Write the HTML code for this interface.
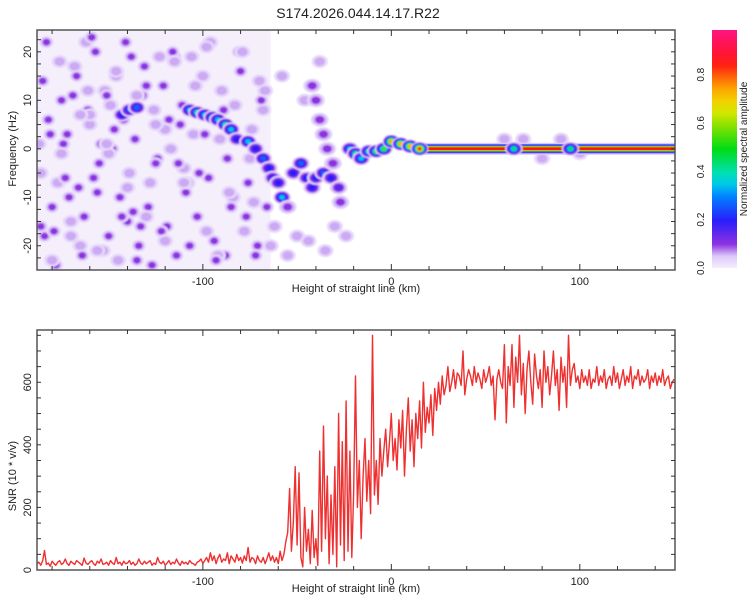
<!DOCTYPE html>
<html><head><meta charset="utf-8"><style>
body{margin:0;background:#fff;}
svg{display:block;font-family:"Liberation Sans",sans-serif;}
</style></head><body>
<svg id="c" width="750" height="600" xmlns="http://www.w3.org/2000/svg">
<text x="358" y="18" font-size="14" text-anchor="middle" fill="#222">S174.2026.044.14.17.R22</text>
</svg>
<script>
// ---- data ----
const xTicks = [-100, 0, 100];
const freqTicks = [-20, -10, 0, 10, 20];
const snrTicks = [0, 200, 400, 600];
const cbTicks = [0.0, 0.2, 0.4, 0.6, 0.8];
// ridge blobs: km, Hz, amplitude
const ridgeKm  = [-143,-139,-135,-107,-103,-99,-95,-92,-88,-85,-82,-76,-72,-68,-65,-63,-60,-58,-55,-52,-48,-45,-42,-40,-36,-32,-28,-27,-42,-40,-38,-36,-34,-31,-22,-19,-16,-12,-8,-4,0,5,10,15,65,95];
const ridgeHz  = [7,8,8.5,8,7.5,7,6.5,6,5,4,2,1.5,0,-2,-4,-6,-7,-10,-12,-5,-3,-6,-8,-6,-5,-6,-8,-11,13,10,6,3,0,-3,0,-1,-2,-0.5,-0.5,0,1.5,1,0.5,0,0,0];
const ridgeAmp = [0.22,0.28,0.33,0.42,0.45,0.4,0.36,0.4,0.45,0.38,0.25,0.35,0.2,0.3,0.25,0.26,0.2,0.36,0.14,0.2,0.3,0.26,0.25,0.2,0.3,0.22,0.15,0.12,0.13,0.11,0.11,0.1,0.1,0.11,0.4,0.5,0.36,0.45,0.55,0.6,0.8,0.8,0.82,0.86,0.5,0.5];
// background noise blobs: km, Hz, amplitude
const noiseKm  = [-185,-183,-180,-178,-175,-172,-170,-168,-166,-163,-161,-160,-157,-155,-153,-152,-150,-148,-146,-144,-142,-141,-139,-136,-134,-132,-131,-129,-127,-126,-124,-121,-119,-117,-115,-114,-112,-109,-106,-103,-100,-97,-94,-90,-87,-84,-80,-77,-74,-71,-68,-66,-186,-181,-176,-171,-165,-158,-149,-137,-128,-118,-110,-96,-88,-78,-70,-64,-62,-58,-50,-46,-38,-30,-24,-184,-177,-169,-162,-154,-145,-133,-123,-113,-105,-92,-83,-73,-160,-150,-140,-120,-108,-98,60,70,80,90,100,
 -187,-182,-179,-174,-173,-167,-164,-159,-156,-151,-147,-143,-138,-135,-130,-125,-122,-116,-111,-107,-102,-99,-93,-89,-85,-81,-76,-72,-69,-186,-180,-175,-170,-165,-161,-156,-151,-146,-140,-135,-130,-125,-120,-115,-110,-104,-98,-91,-86,-79,-75,-67,-55,-44,-35];
const noiseHz  = [14,22,-12,-24,10,3,-18,17,-8,-14,8,5,20,-3,-21,12,-18,0,15,-10,6,22,-5,2,-20,11,17,-12,-24,8,-2,13,-16,0,19,-22,5,-9,19,-14,15,-6,-19,12,-2,-10,16,-14,4,-20,8,-12,-5,3,18,-10,-20,-6,9,-13,-7,6,-4,22,-22,-17,14,-20,-16,15,-18,10,18,-16,-18,-18,-7,11,22,1,-23,-16,19,-3,3,-22,9,-11,7,-1,-15,4,-7,21,2,2,-2,2,-1,1,
 6,-17,1,-6,15,-22,23,-9,11,4,-14,19,-23,13,-3,-17,20,9,-20,-5,3,-23,8,-12,20,-7,-22,10,-16,-23,-1,-15,7,12,-21,1,16,-8,11,-14,5,-19,18,-7,13,-17,2,-9,20,-2,12,-22,-19,-21,-14];
const noiseAmp = [0.1,0.13,0.12,0.14,0.1,0.13,0.06,0.06,0.12,0.1,0.11,0.06,0.12,0.1,0.06,0.06,0.12,0.1,0.06,0.12,0.11,0.1,0.06,0.12,0.13,0.1,0.1,0.12,0.13,0.06,0.1,0.12,0.1,0.06,0.11,0.1,0.12,0.1,0.06,0.1,0.06,0.1,0.12,0.06,0.1,0.06,0.1,0.12,0.06,0.1,0.06,0.1,0.06,0.11,0.06,0.11,0.06,0.11,0.06,0.11,0.06,0.11,0.06,0.06,0.12,0.06,0.06,0.06,0.06,0.06,0.06,0.06,0.06,0.06,0.06,0.11,0.06,0.11,0.06,0.11,0.06,0.11,0.06,0.11,0.06,0.06,0.06,0.06,0.06,0.06,0.11,0.06,0.06,0.06,0.06,0.06,0.06,0.06,0.06,0.06,
 0.11,0.1,0.12,0.11,0.1,0.12,0.11,0.1,0.11,0.12,0.1,0.11,0.13,0.1,0.11,0.12,0.1,0.11,0.12,0.1,0.11,0.12,0.1,0.11,0.1,0.11,0.12,0.1,0.11,0.06,0.06,0.06,0.06,0.06,0.06,0.06,0.06,0.06,0.06,0.06,0.06,0.06,0.06,0.06,0.06,0.06,0.06,0.06,0.06,0.06,0.06,0.06,0.06,0.06,0.06];
// SNR series, km from -188 step 1
const snrStart = -188;
const snrValues = [
20,25,15,30,62,18,22,12,28,20, 15,25,30,18,22,35,20,15,28,22,
18,30,25,20,15,38,22,18,25,30, 20,15,28,22,35,18,20,25,15,30,
22,18,40,20,25,15,28,20,22,30, 18,25,15,20,35,22,18,28,20,25,
30,15,22,18,40,25,20,28,15,22, 30,18,25,20,35,22,15,28,20,25,
18,30,22,20,15,25,28,35,20,30, 40,25,55,30,45,20,38,50,25,35,
30,55,20,45,35,25,50,30,40,22, 45,30,72,25,40,35,20,45,30,25,
40,20,35,55,30,45,25,40,20,60, 30,50,90,120,260,60,150,330,80,310,
40,10,200,60,130,20,190,40,100,15, 380,60,460,100,300,20,240,50,330,10,
500,80,410,30,540,60,380,40,240,620, 200,350,100,300,420,220,350,180,750,240,
350,210,420,300,380,450,330,410,500,350, 420,320,480,390,510,300,450,550,380,480,
330,500,420,540,390,600,440,520,470,560, 430,580,510,600,530,620,560,590,650,570,
600,640,580,630,620,590,700,560,610,640, 620,590,650,600,630,610,580,640,600,620,
650,590,620,480,610,640,600,580,720,470, 650,590,720,520,680,600,750,560,660,500,
640,700,600,530,690,620,580,640,520,700, 600,650,560,620,700,590,640,510,680,600,
650,520,750,590,640,660,600,620,580,640, 600,620,590,640,580,610,600,650,590,620,
600,640,580,610,620,590,650,600,630,580, 610,640,590,620,600,650,580,620,610,640,
590,620,600,610,640,580,620,600,630,590, 620,600,640,590,610,620,580,600,610];
const lineStartKm = 15;

// ---- layout ----
const NS="http://www.w3.org/2000/svg", svg=document.getElementById('c');
const L=37,R=675,T1=30,B1=270,T2=330,B2=570, KM0=-188, KM1=150.5;
const xs=k=>L+(k-KM0)/(KM1-KM0)*(R-L);
const yf=h=>T1+(24.5-h)/49.5*(B1-T1);
const ys=v=>B2-v/767*(B2-T2);
function el(t,a,p){const e=document.createElementNS(NS,t);for(const k in a)e.setAttribute(k,a[k]);(p||svg).appendChild(e);return e;}
const stops=[[0,[245,238,253]],[0.05,[220,200,248]],[0.1,[140,50,225]],[0.2,[40,30,250]],[0.3,[0,130,255]],[0.37,[0,225,225]],[0.5,[0,220,20]],[0.6,[140,225,0]],[0.67,[235,235,0]],[0.76,[255,160,0]],[0.86,[255,20,20]],[1,[255,20,130]]];
function cmap(v){for(let i=1;i<stops.length;i++){if(v<=stops[i][0]){const a=stops[i-1],b=stops[i],t=(v-a[0])/(b[0]-a[0]);return 'rgb('+a[1].map((c,j)=>Math.round(c+(b[1][j]-c)*t)).join(',')+')';}}return 'rgb(255,20,130)';}

const defs=el('defs',{});
const cp=el('clipPath',{id:'cl1'},defs);el('rect',{x:L,y:T1,width:R-L,height:B1-T1},cp);
const cp2=el('clipPath',{id:'cl2'},defs);el('rect',{x:L,y:T2,width:R-L,height:B2-T2},cp2);
const flt=el('filter',{id:'bl',x:'-5%',y:'-5%',width:'110%',height:'110%'},defs);
el('feGaussianBlur',{stdDeviation:0.9},flt);

// heatmap
const hmc=el('g',{'clip-path':'url(#cl1)'});


const hm=el('g',{filter:'url(#bl)'},hmc);
el('rect',{x:L-5,y:T1-5,width:xs(-64)-L+5,height:B1-T1+10,fill:'#f5effc'},hm);
function blob(k,h,a,rx,ry,g){
  const levels=[0.03,0.06,0.1,0.15,0.2,0.27,0.35,0.45,0.55,0.65,0.75,0.85];
  const n=levels.filter(l=>l<=a).length;
  levels.forEach((l,i)=>{if(l>a)return;const f=1-i/(n+0.5);
    el('ellipse',{cx:xs(k),cy:yf(h),rx:rx*f+1,ry:ry*f+1,fill:cmap(l)},g);});
}
for(let i=0;i<noiseKm.length;i++){
  const g=el('g',{},hm);
  
  
  const big=noiseAmp[i]>0.08;
  blob(noiseKm[i],noiseHz[i],noiseAmp[i],big?6:7,big?5:5.5,g);
}
const band=el('g',{},hmc);


[[12,0.05],[9,0.15],[7,0.3],[5.5,0.5],[4.5,0.68],[3,0.87]].forEach(([w,l])=>{
  el('rect',{x:xs(lineStartKm),y:yf(0)-w/2,width:R-xs(lineStartKm)+5,height:w,fill:cmap(l)},band);});
const hr=el('g',{filter:'url(#bl)'},hmc);
for(let i=0;i<ridgeKm.length;i++){
  const g=el('g',{},hr);
  
  
  blob(ridgeKm[i],ridgeHz[i],ridgeAmp[i],8,6,g);
}

function frame(T,B,name){
  const r=el('rect',{x:L,y:T,width:R-L,height:B-T,fill:'none',stroke:'#555','stroke-width':1.5});
  
  
  for(let k=-180;k<=150;k+=20){const x=xs(k),len=(k%100===0)?6:4;
    el('line',{x1:x,x2:x,y1:B,y2:B-len,stroke:'#333'});el('line',{x1:x,x2:x,y1:T,y2:T+len,stroke:'#333'});}
  xTicks.forEach(k=>{const t=el('text',{x:xs(k),y:B+15,'font-size':11,'text-anchor':'middle',fill:'#222'});t.textContent=k;
    });
  const xl=el('text',{x:356,y:B+22,'font-size':11,'text-anchor':'middle',fill:'#222'});xl.textContent='Height of straight line (km)';
  
}
frame(T1,B1,'spectrogram-frame');
for(let h=-22.5;h<=24;h+=2.5){const y=yf(h);el('line',{x1:L,x2:L+4,y1:y,y2:y,stroke:'#333'});el('line',{x1:R,x2:R-4,y1:y,y2:y,stroke:'#333'});}
freqTicks.forEach(h=>{const t=el('text',{x:0,y:0,'font-size':11,'text-anchor':'middle',fill:'#222',transform:`translate(31,${yf(h)}) rotate(-90)`});t.textContent=h;
  });
let yl=el('text',{x:0,y:0,'font-size':11,'text-anchor':'middle',fill:'#222',transform:`translate(16,${yf(0)}) rotate(-90)`});yl.textContent='Frequency (Hz)';


const CT=30,CB=268;
const lg=el('linearGradient',{id:'cg',x1:0,y1:1,x2:0,y2:0},defs);
for(let v=0;v<=1.0001;v+=0.05)el('stop',{offset:v,'stop-color':cmap(v)},lg);
const cb=el('rect',{x:712,y:CT,width:25,height:CB-CT,fill:'url(#cg)'});

cbTicks.forEach(v=>{const y=CB-v/0.985*(CB-CT);const t=el('text',{x:0,y:0,'font-size':10,'text-anchor':'middle',fill:'#222',transform:`translate(704,${y}) rotate(-90)`});t.textContent=v.toFixed(1);
  });
let ct=el('text',{x:0,y:0,'font-size':10,'text-anchor':'middle',fill:'#222',transform:`translate(747,${(CT+CB)/2}) rotate(-90)`});ct.textContent='Normalized spectral amplitude';


const pts=snrValues.map((v,i)=>xs(snrStart+i).toFixed(1)+','+ys(v).toFixed(1)).join(' ');
const pl=el('polyline',{points:pts,fill:'none',stroke:'#ee3030','stroke-width':1.4,'stroke-linejoin':'round','clip-path':'url(#cl2)'});

frame(T2,B2,'snr-frame');
for(let v=50;v<767;v+=50){const y=ys(v);el('line',{x1:L,x2:L+4,y1:y,y2:y,stroke:'#333'});el('line',{x1:R,x2:R-4,y1:y,y2:y,stroke:'#333'});}
snrTicks.forEach(v=>{const t=el('text',{x:0,y:0,'font-size':11,'text-anchor':'middle',fill:'#222',transform:`translate(31,${ys(v)}) rotate(-90)`});t.textContent=v;
  });
yl=el('text',{x:0,y:0,'font-size':11,'text-anchor':'middle',fill:'#222',transform:`translate(16,${ys(300)}) rotate(-90)`});yl.textContent='SNR (10 * v/v)';

</script>
</body></html>
